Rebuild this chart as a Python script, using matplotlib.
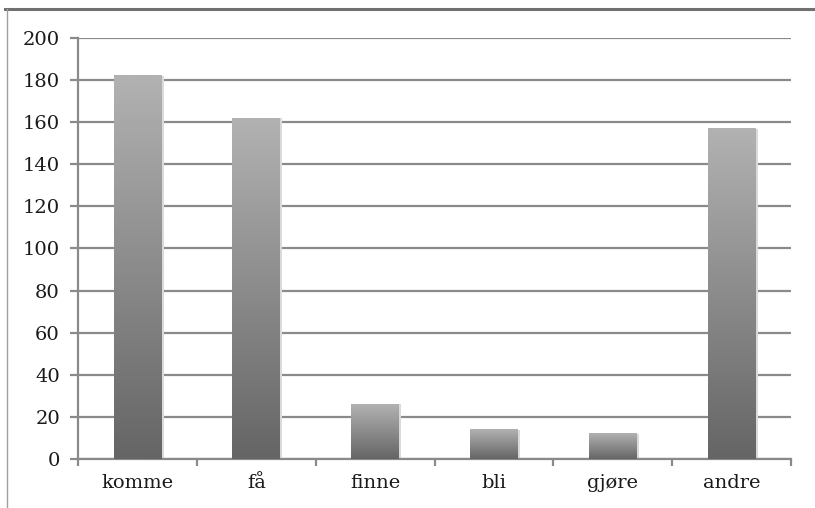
import numpy as np
import matplotlib.pyplot as plt
from matplotlib.lines import Line2D

# verb counts
verbs = ["komme", "få", "finne", "bli", "gjøre", "andre"]
counts = [182, 162, 26, 14, 12, 157]
yticks = [0, 20, 40, 60, 80, 100, 120, 140, 160, 180, 200]

plt.rcParams['font.family'] = ['DejaVu Serif']
grid_col = "#8a8a8a"
txt_col = "#1a1a1a"

fig = plt.figure(figsize=(8.15, 5.08), dpi=100)
ax = fig.add_axes([0.0957, 0.0965, 0.8749, 0.8287])

x = np.arange(len(verbs))
bars = ax.bar(x, counts, width=0.4, color="none", zorder=3)

# vertical gray gradient inside each bar, light at top, dark at bottom
grad = np.linspace(0, 1, 256).reshape(-1, 1)
cmap = plt.matplotlib.colors.LinearSegmentedColormap.from_list("g", ["#656565", "#b2b2b2"])
for b in bars:
    x0, w, h = b.get_x(), b.get_width(), b.get_height()
    # soft shadow
    ax.bar(x0 + w / 2 + 0.01, h, width=w + 0.02, color="#dadada", zorder=2)
    ax.imshow(grad, extent=[x0, x0 + w, 0, h], origin="lower", aspect="auto",
              cmap=cmap, zorder=3)

ax.set_xlim(-0.5, len(verbs) - 0.5)
ax.set_ylim(0, 200)
ax.set_yticks(yticks)
ax.yaxis.grid(True, color=grid_col, linewidth=1.6, zorder=1)
ax.set_axisbelow(True)

ax.set_xticks(x)
ax.set_xticklabels(verbs, fontsize=14, color=txt_col)
ax.tick_params(axis="x", length=0, pad=11)
ax.set_xticks(np.arange(-0.5, len(verbs)), minor=True)
ax.tick_params(axis="x", which="minor", length=5, width=1.6, color=grid_col)
ax.tick_params(axis="y", length=6, width=1.6, color=grid_col, labelsize=14,
               labelcolor=txt_col, pad=7)

for s in ["top", "right"]:
    ax.spines[s].set_visible(False)
for s in ["left", "bottom"]:
    ax.spines[s].set_color(grid_col)
    ax.spines[s].set_linewidth(1.6)

# outer frame lines
fig.add_artist(Line2D([0.006, 1.0], [0.982, 0.982], color="#707070", linewidth=2.2))
fig.add_artist(Line2D([0.008, 0.008], [0.0, 0.982], color="#a0a0a0", linewidth=1.0))

fig.savefig("out.png", dpi=100)
